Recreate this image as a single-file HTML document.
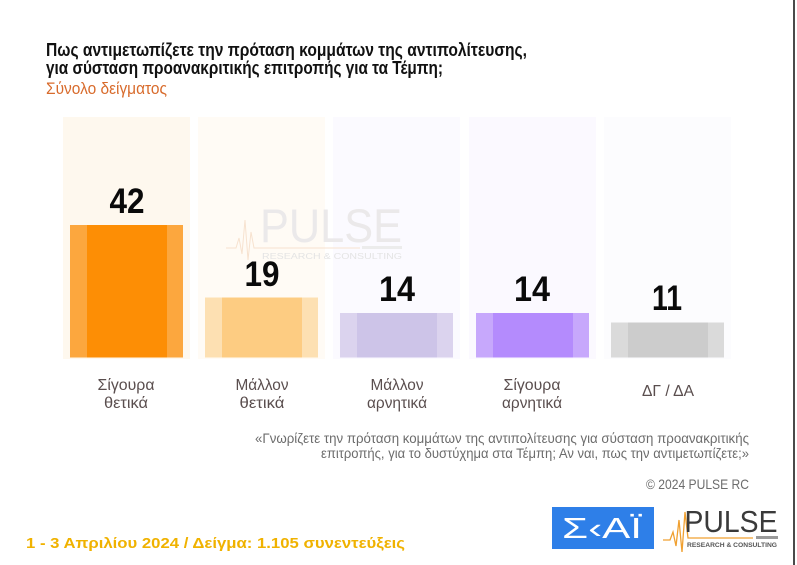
<!DOCTYPE html>
<html><head><meta charset="utf-8"><style>
html,body{margin:0;padding:0;background:#fff;}
svg{display:block;}
text{font-family:"Liberation Sans","DejaVu Sans",sans-serif;}
</style></head><body>
<svg width="797" height="565" viewBox="0 0 797 565" xmlns="http://www.w3.org/2000/svg">
<rect width="797" height="565" fill="#fff"/>
<!-- title -->
<text x="46" y="56" font-size="18" font-weight="bold" fill="#111" textLength="481" lengthAdjust="spacingAndGlyphs">Πως αντιμετωπίζετε την πρόταση κομμάτων της αντιπολίτευσης,</text>
<text x="46" y="74" font-size="18" font-weight="bold" fill="#111" textLength="397" lengthAdjust="spacingAndGlyphs">για σύσταση προανακριτικής επιτροπής για τα Τέμπη;</text>
<text x="46" y="94" font-size="17" fill="#d86b2c" textLength="121" lengthAdjust="spacingAndGlyphs">Σύνολο δείγματος</text>

<!-- column backgrounds -->
<rect x="63" y="117" width="127" height="242" fill="#fef8ee"/>
<rect x="198" y="117" width="127" height="242" fill="#fffbf5"/>
<rect x="333" y="117" width="127" height="242" fill="#fbfaff"/>
<rect x="469" y="117" width="127" height="242" fill="#fbf9ff"/>
<rect x="604" y="117" width="127" height="242" fill="#fcfcfe"/>

<!-- watermark -->
<g opacity="1">
<polyline points="226,248 236,248 239,238 242,254 245,220 248,260 251,232 254,248 360,248" fill="none" stroke="#f7e2cf" stroke-width="1"/>
<text x="331" y="242" font-size="47" fill="#ebe9ea" text-anchor="middle" textLength="142" lengthAdjust="spacingAndGlyphs">PULSE</text>
<rect x="362" y="246" width="40" height="3" fill="#ececec"/>
<text x="332" y="259" font-size="8" fill="#e4e4e4" text-anchor="middle" textLength="140" lengthAdjust="spacingAndGlyphs">RESEARCH &amp; CONSULTING</text>
</g>

<!-- bars -->
<rect x="70" y="225" width="113" height="132.5" fill="#fca73e"/>
<rect x="87" y="225" width="80" height="132.5" fill="#fd8e05"/>

<rect x="205" y="297.5" width="113" height="60" fill="#fde0b2"/>
<rect x="222" y="297.5" width="80" height="60" fill="#fdcc82"/>

<rect x="340" y="313" width="113" height="44.5" fill="#dbd3ee"/>
<rect x="357" y="313" width="80" height="44.5" fill="#cdc4e8"/>

<rect x="476" y="313" width="113" height="44.5" fill="#c7a8fc"/>
<rect x="493" y="313" width="80" height="44.5" fill="#b48bfd"/>

<rect x="611" y="322.5" width="113" height="35" fill="#dadada"/>
<rect x="628" y="322.5" width="80" height="35" fill="#cccccc"/>

<!-- values -->
<g font-size="35" font-weight="bold" fill="#0a0a0a" text-anchor="middle">
<text x="127" y="213" textLength="35" lengthAdjust="spacingAndGlyphs">42</text>
<text x="262" y="286" textLength="35" lengthAdjust="spacingAndGlyphs">19</text>
<text x="397" y="301" textLength="36" lengthAdjust="spacingAndGlyphs">14</text>
<text x="532" y="301" textLength="36" lengthAdjust="spacingAndGlyphs">14</text>
<text x="667" y="310" textLength="30" lengthAdjust="spacingAndGlyphs">11</text>
</g>

<!-- category labels -->
<g font-size="16" fill="#5a4e4e" text-anchor="middle">
<text x="126" y="390" textLength="57" lengthAdjust="spacingAndGlyphs">Σίγουρα</text>
<text x="126" y="408" textLength="44" lengthAdjust="spacingAndGlyphs">θετικά</text>
<text x="262" y="390" textLength="53" lengthAdjust="spacingAndGlyphs">Μάλλον</text>
<text x="262" y="408" textLength="45" lengthAdjust="spacingAndGlyphs">θετικά</text>
<text x="397" y="390" textLength="53" lengthAdjust="spacingAndGlyphs">Μάλλον</text>
<text x="397" y="408" textLength="60" lengthAdjust="spacingAndGlyphs">αρνητικά</text>
<text x="532" y="390" textLength="57" lengthAdjust="spacingAndGlyphs">Σίγουρα</text>
<text x="532" y="408" textLength="60" lengthAdjust="spacingAndGlyphs">αρνητικά</text>
<text x="668" y="396" textLength="52" lengthAdjust="spacingAndGlyphs">ΔΓ / ΔΑ</text>
</g>

<!-- quote -->
<g font-size="14" fill="#6c6c6c" text-anchor="end">
<text x="749" y="443" textLength="494" lengthAdjust="spacingAndGlyphs">«Γνωρίζετε την πρόταση κομμάτων της αντιπολίτευσης για σύσταση προανακριτικής</text>
<text x="749" y="458" textLength="428" lengthAdjust="spacingAndGlyphs">επιτροπής, για το δυστύχημα στα Τέμπη; Αν ναι, πως την αντιμετωπίζετε;»</text>
<text x="749" y="489" textLength="103" lengthAdjust="spacingAndGlyphs">© 2024 PULSE RC</text>
</g>

<!-- footer -->
<text x="26" y="548" font-size="15" font-weight="bold" fill="#f0b200" textLength="379" lengthAdjust="spacingAndGlyphs">1 - 3  Απριλίου 2024  /  Δείγμα:  1.105 συνεντεύξεις</text>

<!-- SKAI logo -->
<rect x="552" y="507" width="102" height="42" fill="#2e7fe8"/>
<text x="602" y="538" font-size="29" fill="#fff" text-anchor="middle" textLength="80" lengthAdjust="spacingAndGlyphs">Σ‹ΑΪ</text>

<!-- PULSE logo -->
<polyline points="663,540 670,540 673,532 676,546 679,520 682,552 685,512 688,538 753,538" fill="none" stroke="#f0a030" stroke-width="1.3"/>
<text x="731" y="532" font-size="31" fill="#3a3a3a" text-anchor="middle" textLength="93" lengthAdjust="spacingAndGlyphs">PULSE</text>
<rect x="756" y="536" width="22" height="3" fill="#9a9a9a"/>
<text x="732" y="547" font-size="6" font-weight="bold" fill="#555" text-anchor="middle" textLength="90" lengthAdjust="spacingAndGlyphs">RESEARCH &amp; CONSULTING</text>

<!-- right border -->
<rect x="793" y="0" width="2" height="565" fill="#4a4a4a"/>
</svg>
</body></html>
